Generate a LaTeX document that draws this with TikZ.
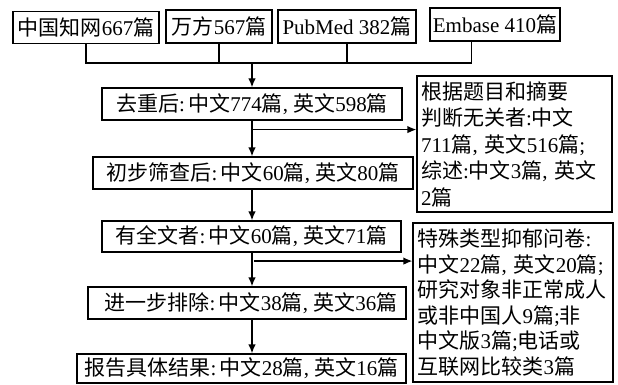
\documentclass[tikz,border=0pt]{standalone}
\usepackage{fontspec}
\setmainfont{Liberation Serif}
\newfontfamily\cjk{Noto Sans CJK SC}
\usetikzlibrary{arrows.meta,calc}
\newcommand\zh[1]{{\cjk #1}}
\begin{document}
\begin{tikzpicture}[x=1pt,y=-1pt,
  every node/.style={font=\fontsize{21}{26.5}\selectfont},
  box/.style={draw,line width=1.3pt,inner sep=0pt},
  sidebox/.style={draw,line width=1.3pt,inner xsep=0pt,inner ysep=0pt,align=left},
  ln/.style={line width=1.3pt},
  arr/.style={line width=1.3pt,-{Latex[length=9pt,width=7.5pt]}}]
\useasboundingbox[fill=white] (0,0) rectangle (618,385);
% sources
\node[box,minimum width=146,minimum height=32] (b1) at (86,27.7) {\zh{中国知网}667\zh{篇}};
\node[box,minimum width=106,minimum height=33] (b2) at (219,26.5) {\zh{万方}567\zh{篇}};
\node[box,minimum width=138,minimum height=33] (b3) at (347,26.5) {PubMed 382\zh{篇}};
\node[box,minimum width=130,minimum height=33] (b4) at (495,24.5) {Embase 410\zh{篇}};
% main flow
\node[box,minimum width=300,minimum height=32] (A) at (252,104) {\zh{去重后}:\,\zh{中文}774\zh{篇}, \zh{英文}598\zh{篇}};
\node[box,minimum width=320,minimum height=32] (B) at (253,173) {\zh{初步筛查后}:\,\zh{中文}60\zh{篇}, \zh{英文}80\zh{篇}};
\node[box,minimum width=299,minimum height=31] (C) at (251.5,236.5) {\zh{有全文者}:\,\zh{中文}60\zh{篇}, \zh{英文}71\zh{篇}};
\node[box,minimum width=318,minimum height=32] (D) at (247,303) {\hspace{8pt}\zh{进一步排除}:\,\zh{中文}38\zh{篇}, \zh{英文}36\zh{篇}};
\node[box,minimum width=329,minimum height=29] (E) at (241.5,368.5) {\zh{报告具体结果}:\,\zh{中文}28\zh{篇}, \zh{英文}16\zh{篇}};
% side boxes
\node[sidebox,minimum width=195,minimum height=136,text width=187] (S1) at (514.5,144)
 {\zh{根据题目和摘要}\\
  \zh{判断无关者}:\zh{中文}\\
  711\zh{篇}, \zh{英文}516\zh{篇};\\
  \zh{综述}:\zh{中文}3\zh{篇}, \zh{英文}\\
  2\zh{篇}};
\node[sidebox,minimum width=200,minimum height=159,text width=191,
  font=\fontsize{21}{25.5}\selectfont] (S2) at (513,302.5)
 {\zh{特殊类型抑郁问卷}:\\
  \zh{中文}22\zh{篇}, \zh{英文}20\zh{篇};\\
  \zh{研究对象非正常成人}\\
  \zh{或非中国人}9\zh{篇};\zh{非}\\
  \zh{中文版}3\zh{篇};\zh{电话或}\\
  \zh{互联网比较类}3\zh{篇}};
% bus
\coordinate (bus) at (A.north |- 0,63);
\coordinate (d4) at ([xshift=42pt]b4.south west);
\draw[ln] (b1.south) |- (d4 |- bus) -- (d4);
\draw[ln] (b2.south) -- (b2.south |- bus);
\draw[ln] (b3.south) -- (b3.south |- bus);
\draw[arr] (bus) -- (A.north);
% main arrows
\draw[arr] (A.south) -- (A.south |- B.north);
\draw[arr] (A.south |- B.south) -- (A.south |- C.north);
\draw[arr] (A.south |- C.south) -- (A.south |- D.north);
\draw[arr] (A.south |- D.south) -- (A.south |- E.north);
% branches
\coordinate (j1) at ($(A.south)!0.25!(A.south |- B.north)$);
\draw[arr] (j1) -- (j1 -| S1.west);
\coordinate (j2) at ($(A.south |- C.south)!0.25!(A.south |- D.north)$);
\draw[arr] ([xshift=2pt]j2) -- (j2 -| S2.west);
\end{tikzpicture}
\end{document}
